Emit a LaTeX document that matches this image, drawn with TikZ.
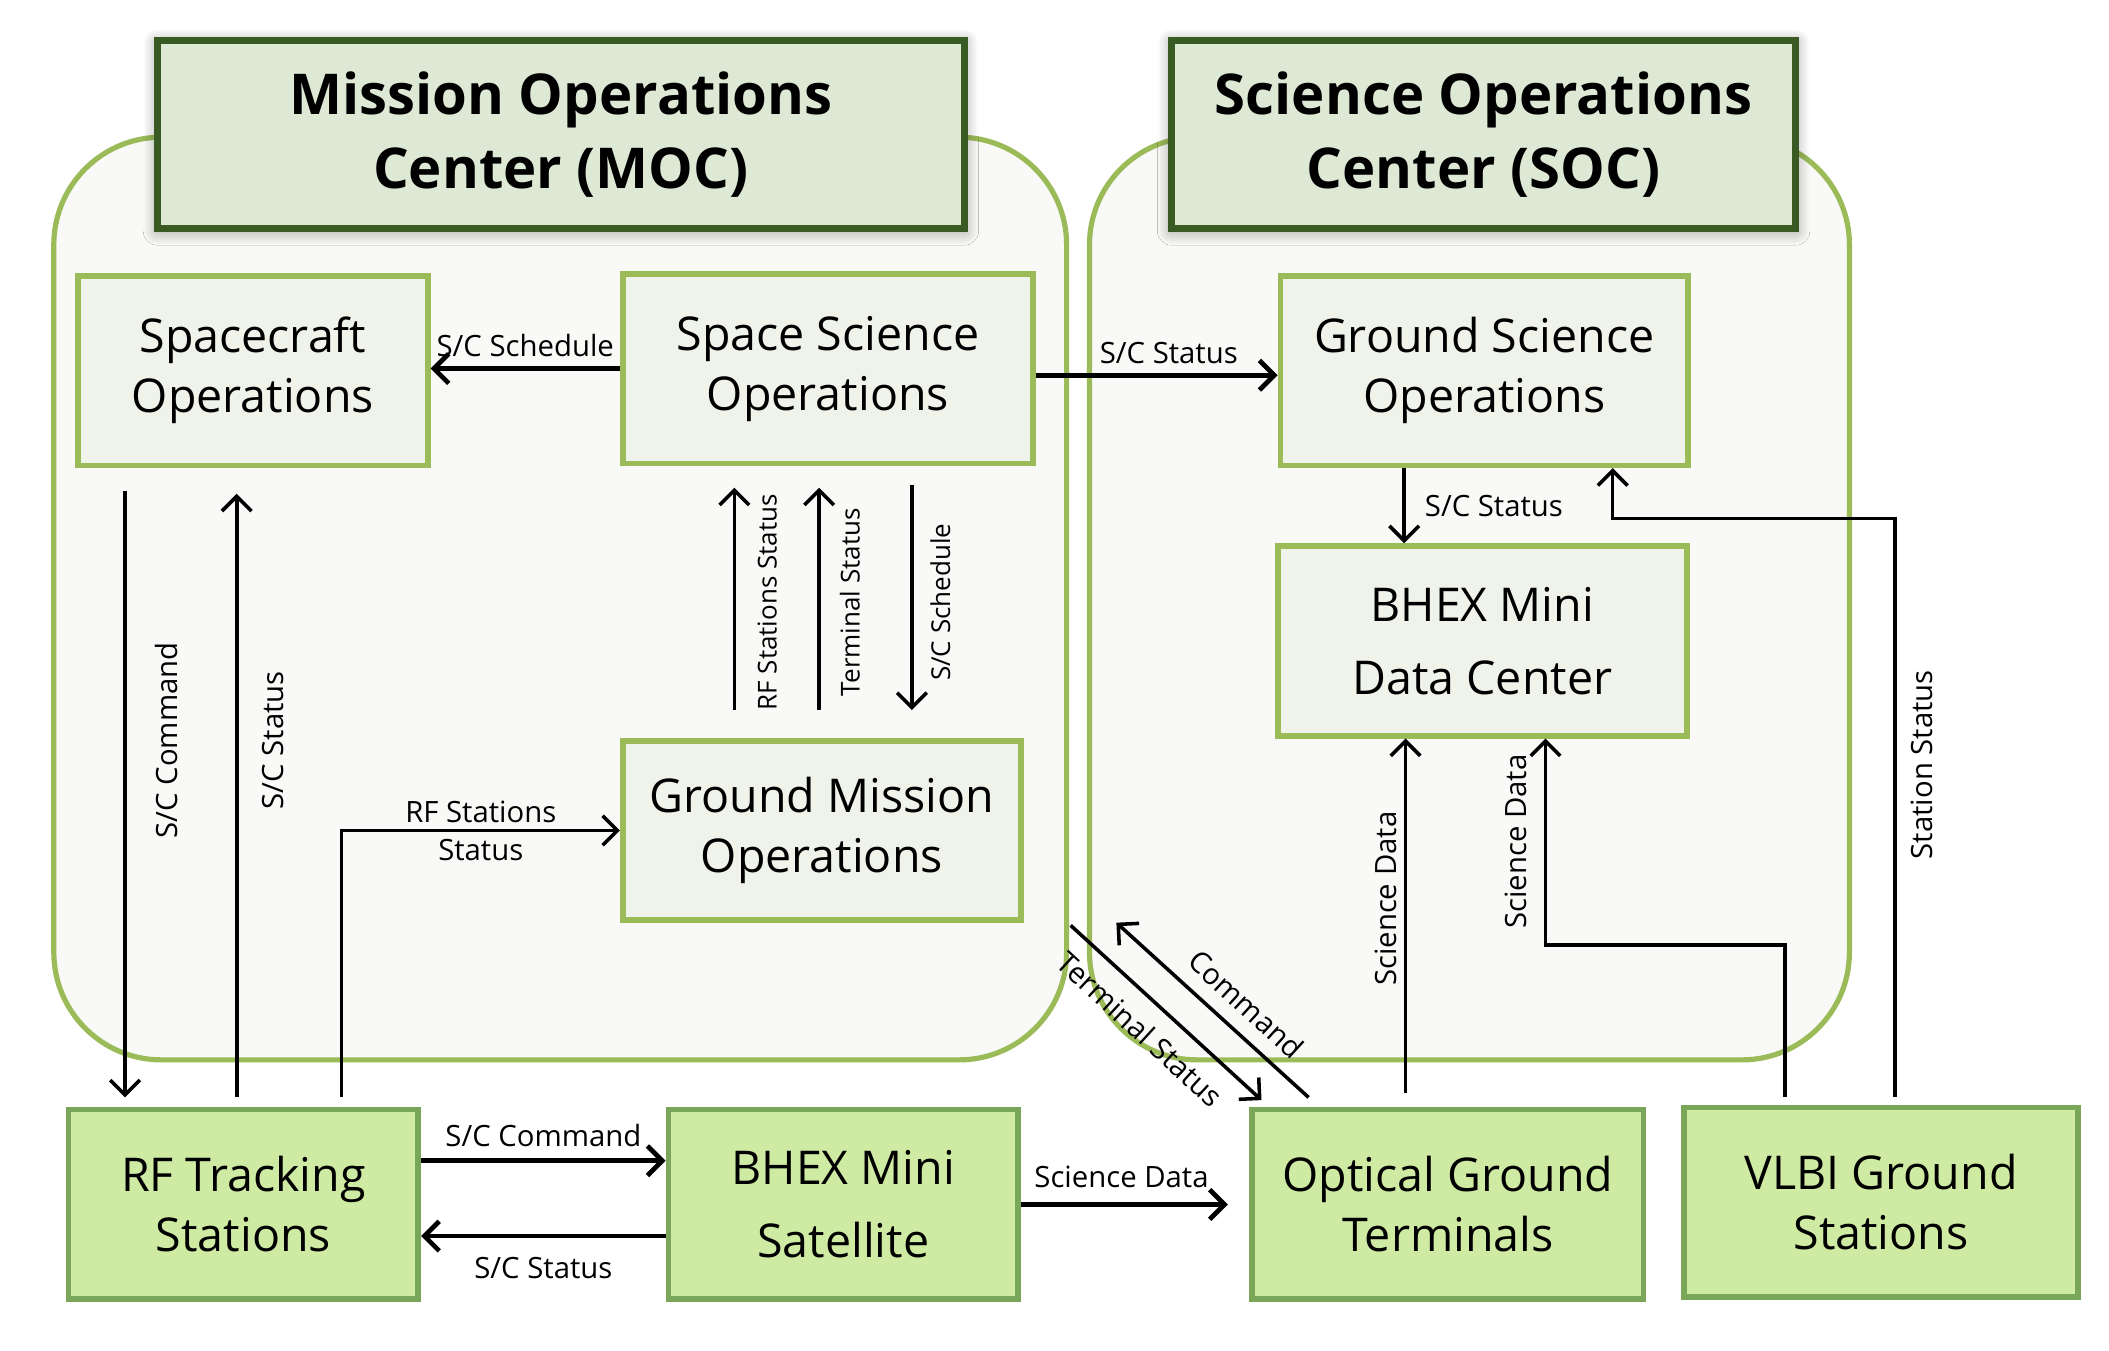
\documentclass[tikz,border=0pt]{standalone}
\usepackage{fontspec}
\setmainfont{Open Sans}
\usetikzlibrary{positioning,arrows.meta,shadows.blur}
\definecolor{opsgreen}{HTML}{9BBB59}
\definecolor{opsdark}{HTML}{3A5A24}
\definecolor{opspale}{HTML}{EFF3E9}
\definecolor{opstitle}{HTML}{DDE8D5}
\definecolor{gndfill}{HTML}{CEEAA3}
\definecolor{gndedge}{HTML}{7AA65A}
\definecolor{frameback}{HTML}{F9F9F7}
\tikzset{
  centreframe/.style={draw=opsgreen,line width=1.1pt,fill=frameback,rounded corners=0.8cm,inner sep=0pt},
  titlebox/.style={draw=opsdark,line width=1.5pt,fill=opstitle,align=center,inner sep=0pt,minimum height=1.40cm,
    font=\fontsize{11.9}{15.5}\selectfont\bfseries,
    blur shadow={shadow xshift=0pt,shadow yshift=-0.5pt,shadow blur radius=3pt,shadow blur steps=12,shadow opacity=40}},
  opsbox/.style={draw=opsgreen,line width=1.2pt,fill=opspale,align=center,inner sep=0pt,minimum height=1.41cm,
    font=\fontsize{9.85}{12.7}\selectfont},
  gndbox/.style={draw=gndedge,line width=1.2pt,fill=gndfill,align=center,inner sep=0pt,minimum height=1.41cm,
    font=\fontsize{9.85}{12.7}\selectfont},
  flow/.style={-{Straight Barb[length=1.1mm,width=2.2mm]},line width=0.75pt},
  flowthick/.style={flow,line width=1pt},
  flowtxt/.style={font=\fontsize{6.2}{8}\selectfont,inner sep=1pt},
  flowsmall/.style={font=\fontsize{5.5}{7}\selectfont,inner sep=1pt}
}

\begin{document}
\begin{tikzpicture}[x=1cm,y=1cm]
  \useasboundingbox (0,0) rectangle (15.68,10.04);

  % the two centres
  \node[centreframe,minimum width=7.53cm,minimum height=6.86cm] (mocframe) at (4.165,5.59) {};
  \node[centreframe,minimum width=5.65cm,minimum height=6.86cm] (socframe) at (10.925,5.59) {};
  \node[titlebox,minimum width=6.00cm] (moctitle) at (4.17,9.04) {Mission Operations\\Center (MOC)};
  \node[titlebox,minimum width=4.64cm] (soctitle) at (11.03,9.04) {Science Operations\\Center (SOC)};

  \foreach \n/\x/\y/\w/\t in {sco/1.88/7.285/2.60/{Spacecraft\\Operations},
      sso/6.155/7.30/3.05/{Space Science\\Operations},
      gso/11.035/7.285/3.03/{Ground Science\\Operations}}
    \node[opsbox,minimum width=\w cm] (\n) at (\x,\y) {\t};
  \node[opsbox,minimum width=3.04cm] (dc) at (11.02,5.275) {BHEX Mini\\[2.7pt]Data Center};
  \node[opsbox,minimum width=2.96cm,minimum height=1.33cm] (gmo) at (6.11,3.865) {Ground Mission\\Operations};

  % ground segment
  \foreach \n/\x/\y/\w/\t in {rf/1.81/1.085/2.60/{RF Tracking\\Stations},
      optical/10.765/1.085/2.91/{Optical Ground\\Terminals},
      vlbi/13.985/1.10/2.93/{VLBI Ground\\Stations}}
    \node[gndbox,minimum width=\w cm] (\n) at (\x,\y) {\t};
  \node[gndbox,minimum width=2.60cm] (sat) at (6.27,1.085) {BHEX Mini\\[2.7pt]Satellite};

  % MOC flows
  \draw[flowthick] (sso.west) -- (sso.west -| sco.east) node[flowtxt,midway,above=1pt] {S/C Schedule};
  \draw[flowthick] ([yshift=-0.5mm]sso.east) -- ([yshift=-0.5mm]sso.east -| gso.west) node[flowtxt,pos=0.55,above=1pt] {S/C Status};
  \draw[flow,shorten <=1.7mm,shorten >=0.7mm] ([xshift=-8.8mm]rf.north |- sco.south) -- ([xshift=-8.8mm]rf.north)
    node[flowtxt,pos=0.426,rotate=90,anchor=north,inner sep=6pt] {S/C Command};
  \draw[flow,shorten <=0.7mm,shorten >=1.9mm] ([xshift=-0.5mm]rf.north) -- ([xshift=-0.5mm]rf.north |- sco.south)
    node[flowtxt,pos=0.574,rotate=90,anchor=north,inner sep=5pt] {S/C Status};
  \draw[flow,shorten <=0.7mm] ([xshift=7.3mm]rf.north) |- (gmo.west)
    node[flowtxt,pos=0.75,align=center] {RF Stations\\Status};
  \draw[flow,shorten <=2.1mm,shorten >=1.6mm] ([xshift=-6.5mm]gmo.north) -- ([xshift=-6.5mm]gmo.north |- sso.south)
    node[flowsmall,midway,rotate=90,anchor=north,inner sep=4.5pt] {RF Stations Status};
  \draw[flow,shorten <=2.1mm,shorten >=1.6mm] ([xshift=-0.2mm]gmo.north) -- ([xshift=-0.2mm]gmo.north |- sso.south)
    node[flowsmall,midway,rotate=90,anchor=north,inner sep=4pt] {Terminal Status};
  \draw[flow,shorten <=1.4mm,shorten >=2.1mm] ([xshift=6.7mm]gmo.north |- sso.south) -- ([xshift=6.7mm]gmo.north)
    node[flowsmall,midway,rotate=90,anchor=north,inner sep=3.5pt] {S/C Schedule};

  % SOC flows
  \draw[flow] ([xshift=-5.95mm]gso.south) -- ([xshift=-5.95mm]gso.south |- dc.north)
    node[flowtxt,midway,right=3pt] {S/C Status};
  \draw[flow,shorten <=0.6mm] ([xshift=1.05mm]vlbi.north) -- ++(0,4.36)
    node[flowtxt,pos=0.58,rotate=90,anchor=north,inner sep=3pt] {Station Status} -| ([xshift=9.55mm]gso.south);
  \draw[flow,shorten <=1mm] ([xshift=-3.15mm]optical.north) -- ([xshift=-3.15mm]optical.north |- dc.south)
    node[flowtxt,pos=0.565,rotate=90,anchor=south,inner sep=1.5pt] {Science Data};
  \draw[flow,shorten <=0.6mm] ([xshift=-7.15mm]vlbi.north) -- ++(0,1.19) -| ([xshift=4.7mm]dc.south)
    node[flowtxt,pos=0.75,rotate=90,anchor=south,inner sep=3.5pt] {Science Data};

  % space link
  \draw[flowthick] ([yshift=3.25mm]rf.east) -- ([yshift=3.25mm]rf.east -| sat.west) node[flowtxt,midway,above=1.5pt] {S/C Command};
  \draw[flowthick] ([yshift=-2.35mm]sat.west) -- ([yshift=-2.35mm]sat.west -| rf.east) node[flowtxt,midway,below=3pt] {S/C Status};
  \draw[flowthick,shorten >=1.6mm] (sat.east) -- (sat.east -| optical.west)
    node[flowtxt,pos=0.44,above=2pt] {Science Data};

  \coordinate (tsfree) at (7.96,3.16);
  \coordinate (cmdfree) at (8.30,3.18);
  \draw[flow] (tsfree) -- ([shift={(0.9mm,0.5mm)}]optical.north west)
    node[flowtxt,pos=0.47,rotate=-42.5,anchor=north,inner sep=3.5pt] {Terminal Status};
  \draw[flow] ([shift={(4.4mm,0.7mm)}]optical.north west) -- (cmdfree)
    node[flowtxt,pos=0.42,rotate=-42.5,anchor=south,inner sep=3pt] {Command};
\end{tikzpicture}
\end{document}
